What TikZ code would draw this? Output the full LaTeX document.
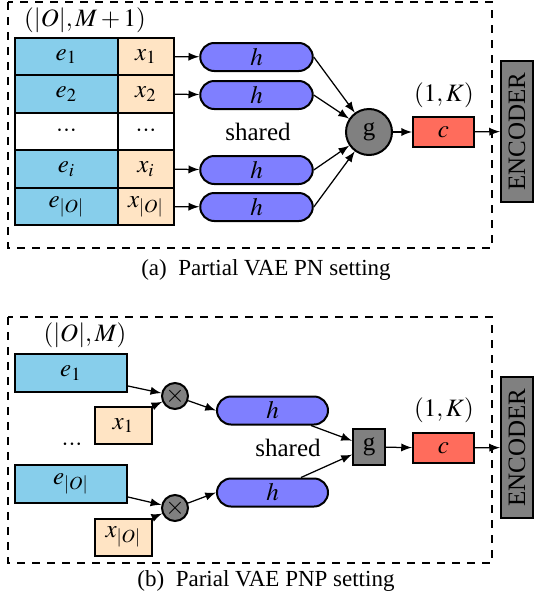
\documentclass[tikz,border=0pt]{standalone}
\usepackage{mathptmx}
\usepackage{fontspec}
\setmainfont{Liberation Serif}
\usetikzlibrary{arrows}

\definecolor{ecol}{RGB}{135,206,235}
\definecolor{xcol}{RGB}{255,228,196}
\definecolor{hcol}{RGB}{127,127,255}
\definecolor{ccol}{RGB}{255,108,92}
\newcommand{\tdots}{${\cdot}{\cdot}{\cdot}$}
\tikzset{
  box/.style={draw,line width=0.8pt,inner sep=0pt,minimum height=15pt},
  ecell/.style={box,fill=ecol,minimum width=41.2pt},
  xcell/.style={box,fill=xcol,minimum width=22.4pt},
  hnode/.style={box,fill=hcol,minimum width=45pt,minimum height=11.2pt,rounded corners=5.6pt},
  gnode/.style={draw,line width=0.8pt,fill=gray,inner sep=0pt},
  cnode/.style={box,fill=ccol,minimum width=24.4pt,minimum height=12pt},
  encnode/.style={box,fill=gray,rotate=90,minimum width=56.4pt,minimum height=12.8pt},
  frame/.style={dashed,line width=0.6pt},
  arr/.style={-latex,line width=0.5pt},
  caption/.style={font=\fontsize{9.2}{11}\selectfont}
}

\begin{document}
\begin{tikzpicture}[x=0.4pt,y=-0.4pt]
\useasboundingbox (0,0) rectangle (534,607);

\draw[frame] (8,2) rectangle (492,248);
\node (top) at (85,20) {$(|O|,M+1)$};
\node[ecell] (e1) at (66.5,56.5) {$e_1$};
\node[xcell] (x1) at (146,56.5) {$x_1$};
\node[ecell] (e2) at (66.5,94) {$e_2$};
\node[xcell] (x2) at (146,94) {$x_2$};
\node[box,minimum width=41.2pt] (ed) at (66.5,131.5) {\tdots};
\node[box,minimum width=22.4pt] (xd) at (146,131.5) {\tdots};
\node[ecell] (ei) at (66.5,169) {$e_i$};
\node[xcell] (xi) at (146,169) {$x_i$};
\node[ecell] (eo) at (66.5,206.5) {$e_{|O|}$};
\node[xcell] (xo) at (146,206.5) {$x_{|O|}$};
\node[hnode] (h1) at (256.5,57) {$h$};
\node[hnode] (h2) at (256.5,95) {$h$};
\node[hnode] (hi) at (256.5,170) {$h$};
\node[hnode] (ho) at (256.5,207) {$h$};
\node (sh) at (258,132) {shared};
\node[gnode,circle,minimum size=18.4pt] (g) at (369,132) {g};
\node (ck) at (444,95) {$(1,K)$};
\node[cnode] (c) at (443.5,132) {$c$};
\node[encnode] (enc) at (517,131.5) {ENCODER};
\draw[arr] (x1) -- (h1);
\draw[arr] (x2) -- (h2);
\draw[arr] (xi) -- (hi);
\draw[arr] (xo) -- (ho);
\draw[arr] (h1.east) -- (g);
\draw[arr] (h2.east) -- (g);
\draw[arr] (hi.east) -- (g);
\draw[arr] (ho.east) -- (g);
\draw[arr] (g) -- (c);
\draw[arr] (c) -- (enc);
\node[caption] (capa) at (266,270) {(a)\enspace Partial VAE PN setting};

\draw[frame] (8,317) rectangle (492,563);
\node (bot) at (85,335) {$(|O|,M)$};
\node[ecell,minimum width=44.8pt,minimum height=15.2pt] (f1) at (71,373) {$e_1$};
\node[xcell,minimum width=22.8pt,minimum height=14.8pt] (y1) at (123.5,425.5) {$x_1$};
\node (dots) at (72,445) {\tdots};
\node[ecell,minimum width=44.8pt,minimum height=15.2pt] (fo) at (71,484) {$e_{|O|}$};
\node[xcell,minimum width=22.8pt,minimum height=14.8pt] (yo) at (123.5,537) {$x_{|O|}$};
\node[gnode,circle,minimum size=10.4pt] (m1) at (175,396) {$\times$};
\node[gnode,circle,minimum size=10.4pt] (mo) at (175,508) {$\times$};
\node[hnode,minimum width=44.4pt] (k1) at (272.5,410.5) {$h$};
\node[hnode,minimum width=44.4pt] (ko) at (272.5,492.5) {$h$};
\node (sh2) at (288,448) {shared};
\node[gnode,minimum width=12.8pt,minimum height=14.4pt] (g2) at (369,447) {g};
\node (ck2) at (444,410) {$(1,K)$};
\node[cnode] (c2) at (443.5,448) {$c$};
\node[encnode] (enc2) at (517,447.5) {ENCODER};
\draw[arr] (f1.south east) ++(0,-7) -- (m1);
\draw[arr] (y1.north east) -- (m1);
\draw[arr] (fo.south east) ++(0,-7) -- (mo);
\draw[arr] (yo.north east) -- (mo);
\draw[arr] (m1) -- (k1.west);
\draw[arr] (mo) -- (ko.west);
\draw[arr] (k1.south east) ++(-18,0) -- (g2);
\draw[arr] (ko.north east) ++(-28,0) -- (g2);
\draw[arr] (g2) -- (c2);
\draw[arr] (c2) -- (enc2);
\node[caption] (capb) at (266,581) {(b)\enspace Parial VAE PNP setting};
\end{tikzpicture}
\end{document}
